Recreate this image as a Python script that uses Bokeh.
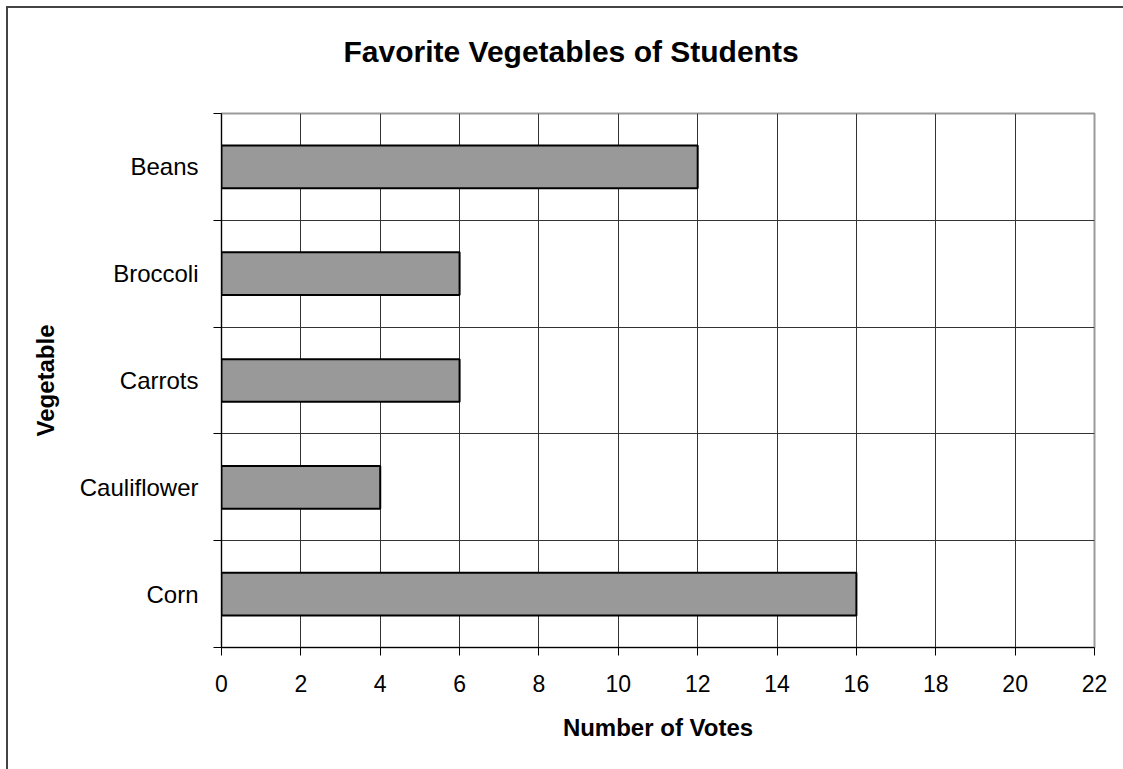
from bokeh.plotting import figure
from bokeh.models import Range1d, FixedTicker, SingleIntervalTicker, Title
from bokeh.embed import file_html
from bokeh.resources import INLINE

# Data
categories = ["Beans", "Broccoli", "Carrots", "Cauliflower", "Corn"]
votes = [12, 6, 6, 4, 16]
x_max = 22
x_step = 2

n = len(categories)
# positions: first category at top
ypos = [n - 1 - i for i in range(n)]
boundaries = [i - 0.5 for i in range(n + 1)]

FONT = "Liberation Sans"

p = figure(
    width=1115, height=761,
    frame_width=873, frame_height=534,
    min_border_left=213, min_border_right=29,
    min_border_top=105, min_border_bottom=122,
    x_range=Range1d(0, x_max), y_range=Range1d(-0.5, n - 0.5),
    output_backend="svg", toolbar_location=None,
    title="Favorite Vegetables of Students",
    styles={"border-left": "2px solid #444444", "border-top": "2px solid #444444",
            "margin-left": "6px", "margin-top": "6px"},
)

p.background_fill_color = "white"
p.border_fill_color = "white"
p.outline_line_color = "#9a9a9a"
p.outline_line_width = 2

p.title.align = "left"
p.title.offset = 122
p.title.text_font = FONT
p.title.text_font_size = "30px"
p.title.text_font_style = "bold"
p.title.text_color = "black"
p.title.standoff = 0

# empty spacer between title and plot area
p.add_layout(Title(text=" ", text_font=FONT, text_font_size="30px", standoff=11), "above")

p.hbar(y=ypos, right=votes, left=0, height=0.4,
       fill_color="#999999", line_color="black", line_width=2)

# X axis
p.xaxis.ticker = SingleIntervalTicker(interval=x_step)
p.xaxis.axis_label = "Number of Votes"
p.xaxis.axis_label_text_font = FONT
p.xaxis.axis_label_text_font_size = "24px"
p.xaxis.axis_label_text_font_style = "bold"
p.xaxis.axis_label_text_color = "black"
p.xaxis.axis_label_standoff = 19
p.xaxis.major_label_text_font = FONT
p.xaxis.major_label_text_font_size = "23px"
p.xaxis.major_label_text_color = "black"
p.xaxis.major_label_standoff = 19
p.xaxis.major_tick_out = 8
p.xaxis.major_tick_in = 0
p.xaxis.minor_tick_out = 0
p.xaxis.minor_tick_in = 0
p.xaxis.axis_line_color = "black"
p.xaxis.major_tick_line_color = "black"

# Y axis
p.yaxis.ticker = FixedTicker(ticks=ypos, minor_ticks=boundaries)
p.yaxis.major_label_overrides = {y: c for y, c in zip(ypos, categories)}
p.yaxis.axis_label = "Vegetable"
p.yaxis.axis_label_text_font = FONT
p.yaxis.axis_label_text_font_size = "24px"
p.yaxis.axis_label_text_font_style = "bold"
p.yaxis.axis_label_text_color = "black"
p.yaxis.axis_label_standoff = 18
p.yaxis.major_label_text_font = FONT
p.yaxis.major_label_text_font_size = "24px"
p.yaxis.major_label_text_color = "black"
p.yaxis.major_label_standoff = 15
p.yaxis.major_tick_out = 0
p.yaxis.major_tick_in = 0
p.yaxis.major_tick_line_color = None
p.yaxis.minor_tick_out = 8
p.yaxis.minor_tick_in = 0
p.yaxis.minor_tick_line_color = "black"
p.yaxis.axis_line_color = "black"

# Grids
p.xgrid.ticker = FixedTicker(ticks=list(range(x_step, x_max, x_step)))
p.xgrid.grid_line_color = "#333333"
p.xgrid.grid_line_width = 1
p.ygrid.ticker = FixedTicker(ticks=boundaries[1:-1])
p.ygrid.grid_line_color = "#333333"
p.ygrid.grid_line_width = 1

open("out.html", "w").write(file_html(p, INLINE))
